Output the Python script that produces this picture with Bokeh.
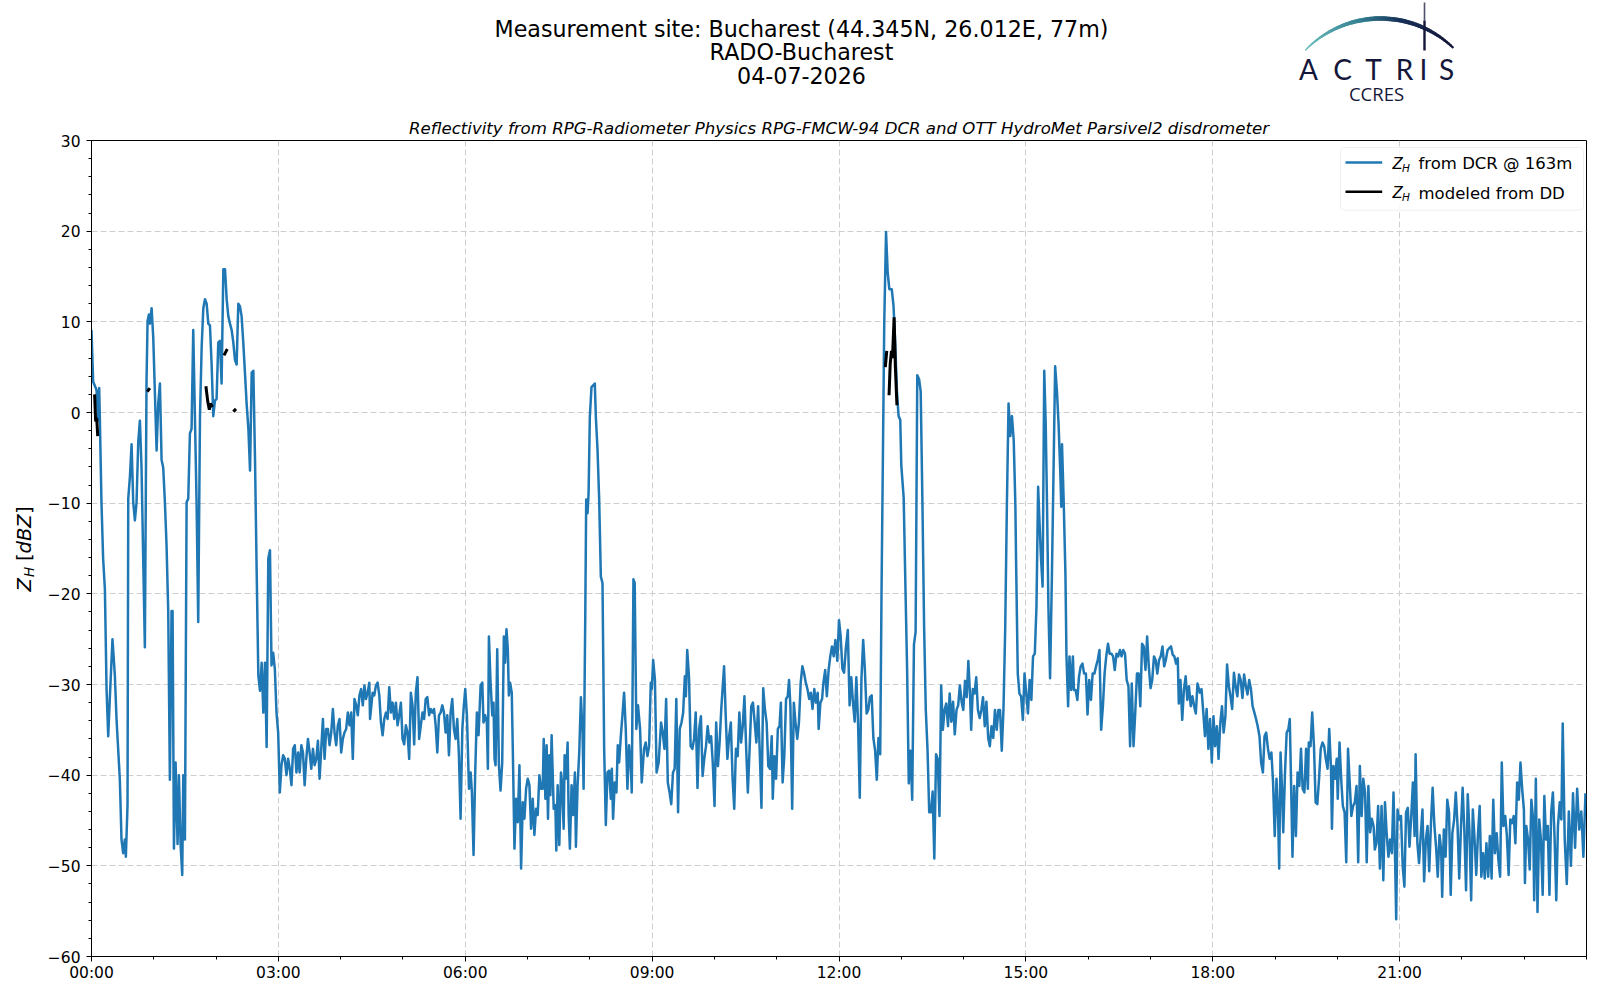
import numpy as np
from bokeh.plotting import figure
from bokeh.models import Range1d, FixedTicker, Label, BoxAnnotation
from bokeh.layouts import column, row
from bokeh.core.properties import value
from bokeh.embed import file_html
from bokeh.resources import INLINE

nan = float("nan")

# ---------------- data: time in minutes after 00:00, Z_H in dBZ ----------------
t_00_03 = [0.0,1.6,4.8,6.4,7.4,8.0,9.6,11.2,12.9,14.5,16.1,17.7,20.2,22.5,24.1,27.3,28.9,30.5,32.1,33.1,34.7,35.4,37.0,38.6,40.2,41.8,43.4,45.0,46.6,48.2,49.8,51.4,53.0,54.0,55.3,56.2,57.9,59.5,61.1,62.7,64.3,65.9,67.5,69.1,70.7,72.3,73.9,75.5,77.1,78.1,79.4,81.0,82.9,84.2,85.8,87.4,88.4,90.0,91.6,93.2,94.8,96.4,98.0,99.6,101.2,102.8,104.5,106.1,107.7,109.3,110.9,112.5,114.1,115.7,117.3,118.9,120.5,122.1,123.7,125.3,127.0,128.6,130.2,131.8,133.4,135.0,136.6,138.2,139.8,141.4,143.0,144.6,146.2,147.8,149.4,151.1,152.7,154.3,155.9,157.5,159.1,160.7,162.3,163.9,165.5,167.1,168.7,170.3,171.9]
z_00_03 = [9.1,3.4,2.5,-0.9,2.7,-0.4,-9.9,-16.1,-19.5,-30.5,-35.7,-31.4,-25.0,-29.0,-33.8,-40.5,-47.1,-48.6,-47.1,-49.0,-43.3,-9.5,-7.1,-3.5,-9.9,-11.9,-9.9,-3.3,-0.9,-6.1,-16.1,-25.9,3.4,10.1,10.8,9.8,11.5,8.2,2.0,-4.2,1.0,3.2,-5.2,-6.1,-9.9,-14.7,-21.9,-40.5,-21.9,-21.9,-48.1,-38.6,-47.6,-40.0,-47.6,-51.0,-40.0,-47.1,-9.9,-9.5,-2.3,-1.8,9.1,-0.4,-9.9,-23.1,-0.4,7.2,11.5,12.5,12.0,9.8,9.6,5.3,-0.4,1.3,1.5,7.7,7.9,3.2,15.8,15.8,12.5,10.6,9.8,9.1,7.7,5.8,5.3,12.0,11.7,10.6,7.7,4.4,1.0,-1.8,-6.4,4.4,4.6,-5.2,-17.6,-29.0,-30.7,-27.6,-33.1,-27.6,-36.9,-16.1,-15.2]

t_03_06 = [173.4,175.0,176.6,178.2,179.8,181.4,183.0,184.6,186.2,187.8,189.4,191.0,192.6,194.2,195.8,197.4,199.0,200.5,202.1,203.7,205.3,206.9,208.5,210.1,211.7,213.3,214.9,216.5,218.1,219.7,221.3,222.9,224.5,226.1,227.7,229.3,230.9,232.5,234.1,235.7,237.3,238.9,240.5,242.1,243.7,245.3,246.9,248.5,250.1,251.7,253.3,254.9,256.5,258.1,259.7,261.3,262.9,264.4,266.0,267.6,268.3,270.8,272.4,274.0,275.6,277.2,278.8,280.4,282.0,283.6,285.2,286.8,288.4,290.0,291.6,293.2,294.8,296.4,298.0,299.6,301.2,302.8,304.4,306.0,307.6,309.2,310.8,312.4,314.0,315.6,317.2,318.8,320.4,321.9,323.5,325.2,326.7,328.3,329.9,331.5,333.1,334.7,336.3,337.9,339.5,341.1,342.7,344.3,345.9,347.5,349.1,350.7,352.3,353.9,355.5]
z_03_06 = [-27.9,-26.5,-28.3,-33.1,-35.3,-41.9,-38.9,-37.8,-38.2,-40.0,-38.2,-39.3,-41.1,-37.1,-36.7,-39.7,-37.5,-39.7,-36.7,-37.5,-41.1,-38.2,-36.0,-37.5,-39.3,-37.1,-38.9,-38.2,-36.2,-40.4,-37.1,-33.8,-38.2,-34.9,-34.9,-36.7,-35.3,-32.7,-35.3,-36.7,-34.5,-33.8,-37.5,-36.0,-35.3,-34.9,-33.1,-34.5,-33.1,-38.2,-31.6,-32.3,-33.4,-31.2,-30.5,-32.3,-30.1,-31.6,-30.9,-29.8,-33.8,-30.9,-31.2,-30.1,-29.8,-31.2,-34.2,-35.6,-33.8,-33.1,-33.8,-30.3,-33.1,-32.0,-33.8,-32.0,-34.5,-33.4,-32.0,-36.0,-36.6,-34.5,-35.3,-38.2,-30.9,-32.3,-36.6,-30.9,-29.2,-36.0,-34.5,-33.1,-33.8,-31.6,-31.4,-33.4,-32.7,-33.1,-32.7,-34.5,-37.5,-33.4,-33.1,-32.3,-33.1,-35.3,-33.4,-37.8,-33.1,-31.6,-34.9,-36.0,-33.8,-37.8,-44.8]

t_06_09 = [357.2,358.4,360.0,361.6,363.6,365.2,366.4,368.0,369.6,371.2,372.8,374.8,376.4,377.6,379.2,380.8,381.8,382.8,384.4,386.0,387.2,388.2,389.2,390.8,392.4,394.0,395.6,397.2,398.4,399.7,401.0,402.0,403.2,404.8,405.8,407.4,409.0,410.6,412.2,413.8,415.4,417.0,418.6,420.2,421.8,423.4,425.0,426.6,428.2,429.8,431.4,433.0,434.6,435.6,437.2,438.4,439.7,441.0,442.0,443.2,445.2,446.8,447.7,449.0,450.6,452.2,453.2,454.8,455.7,457.0,458.6,459.6,460.8,462.4,464.0,465.6,466.6,468.2,469.8,471.4,473.0,474.0,475.6,476.5,477.8,478.8,480.0,481.6,483.2,484.8,485.8,487.4,489.0,490.6,492.2,493.8,495.4,497.0,498.6,500.2,501.2,502.4,504.0,505.6,506.9,508.2,510.1,511.4,513.0,514.6,516.2,517.8,519.4,520.4,522.0,523.2,524.8,526.4,528.4,530.0]
z_06_09 = [-34.9,-32.7,-30.5,-33.4,-41.5,-39.7,-41.9,-48.8,-39.7,-33.1,-35.6,-30.1,-29.8,-34.2,-33.4,-34.2,-39.3,-24.7,-29.8,-33.4,-32.0,-38.2,-38.9,-26.1,-38.9,-41.7,-38.6,-24.7,-27.6,-23.9,-26.1,-31.2,-29.8,-30.9,-37.1,-48.1,-42.6,-45.2,-38.9,-50.3,-43.0,-44.8,-41.5,-40.4,-41.1,-45.9,-42.6,-46.6,-43.7,-44.4,-40.0,-41.5,-41.5,-36.0,-42.6,-36.7,-44.8,-37.8,-42.2,-35.6,-43.7,-43.3,-48.3,-41.1,-47.7,-39.7,-40.8,-45.9,-37.8,-40.4,-36.4,-44.4,-48.1,-41.1,-44.4,-39.7,-47.9,-41.1,-37.5,-31.4,-35.3,-41.5,-22.5,-9.6,-11.1,-8.9,-0.5,2.8,3.0,3.2,-0.5,-4.1,-9.6,-18.1,-18.8,-37.1,-45.5,-39.7,-39.5,-42.6,-39.3,-44.8,-40.8,-41.9,-36.7,-38.6,-35.3,-33.4,-30.9,-34.9,-41.5,-36.7,-38.9,-41.9,-18.4,-18.8,-34.9,-32.3,-34.9,-40.8]

t_09_12 = [532.2,533.8,535.5,537.1,538.7,539.7,541.0,542.7,544.3,546.3,548.6,550.2,551.9,553.5,555.1,556.8,558.4,560.1,561.7,563.3,565.0,566.6,568.3,569.9,571.5,572.5,573.8,575.5,577.1,578.8,580.4,582.0,583.7,585.3,587.0,588.6,590.2,591.9,593.5,595.2,596.8,598.4,600.1,601.7,603.4,605.0,606.6,609.3,610.9,612.5,614.2,615.8,617.5,619.1,620.7,622.4,624.0,625.7,627.3,628.9,630.6,632.2,633.9,635.5,637.1,638.8,640.4,642.1,643.7,645.3,647.0,648.6,650.3,651.9,653.5,655.2,656.2,657.8,659.4,661.1,662.7,664.0,665.7,667.3,669.0,670.6,671.9,673.2,674.9,676.5,678.1,679.8,681.4,683.1,684.7,686.3,688.0,689.6,691.3,692.9,694.5,696.2,697.8,699.5,700.4,702.1,703.7,705.0,706.7,708.3,710.0,711.6,713.2,714.9,716.5]
z_09_12 = [-37.1,-36.4,-37.9,-36.8,-29.8,-30.5,-27.3,-29.5,-39.7,-38.6,-34.2,-35.3,-37.1,-31.6,-40.8,-41.9,-43.2,-39.7,-39.3,-31.6,-44.1,-34.9,-34.2,-33.1,-29.1,-31.3,-26.2,-29.1,-36.8,-37.1,-36.0,-33.1,-41.4,-34.9,-33.5,-40.1,-38.2,-36.8,-34.6,-36.4,-35.7,-38.6,-43.4,-34.2,-39.0,-36.4,-32.7,-28.0,-33.5,-38.2,-35.7,-34.2,-40.4,-43.7,-37.1,-37.9,-33.1,-36.4,-34.6,-31.3,-37.1,-41.9,-37.1,-32.4,-32.0,-34.2,-36.4,-32.4,-37.5,-43.6,-30.4,-32.7,-34.2,-39.0,-39.3,-35.7,-42.6,-37.9,-40.4,-34.9,-34.6,-32.0,-40.8,-37.9,-31.6,-31.3,-29.5,-32.4,-43.7,-32.0,-34.2,-36.0,-34.2,-29.8,-28.0,-28.7,-29.8,-30.5,-31.6,-30.9,-32.7,-30.5,-32.0,-30.9,-34.9,-32.0,-31.6,-29.8,-28.4,-31.3,-28.4,-26.9,-25.8,-26.9,-25.1]

t_12_15 = [718.4,720.0,721.6,723.3,724.9,726.6,728.5,730.2,731.8,733.4,735.1,736.7,738.4,740.0,741.6,743.3,744.9,746.6,748.2,749.8,751.5,753.1,754.8,756.4,758.0,759.7,761.0,762.6,763.6,765.3,766.9,768.5,770.8,772.5,774.1,775.8,777.4,779.0,780.0,782.3,784.0,785.6,787.2,788.9,790.5,792.2,793.8,795.4,797.1,798.7,800.4,802.0,803.6,805.3,806.9,808.6,810.2,811.8,813.5,815.1,816.8,818.4,820.0,821.7,823.3,825.0,826.6,828.2,829.9,831.5,833.2,834.8,836.4,838.1,839.7,841.4,843.0,844.6,846.3,847.3,848.9,850.5,852.2,853.8,855.5,857.1,858.7,860.4,862.0,863.7,865.3,866.9,868.6,870.2,871.9,873.5,875.1,876.8,878.4,880.1,881.7,883.3,885.0,886.6,888.3,889.9]
z_12_15 = [-27.4,-22.9,-24.7,-28.3,-28.7,-26.0,-24.0,-32.3,-29.2,-31.9,-34.1,-29.2,-34.4,-42.5,-29.4,-25.1,-28.3,-33.2,-32.8,-31.4,-31.2,-35.9,-37.3,-40.5,-35.9,-37.7,-19.3,-1.3,10.0,19.9,15.4,13.6,13.6,11.8,7.7,2.3,-0.4,-0.8,-5.8,-9.4,-19.3,-28.3,-40.9,-37.3,-42.7,-25.6,-24.2,4.1,3.7,2.3,-10.3,-23.8,-32.8,-37.3,-44.1,-44.1,-41.8,-49.2,-37.7,-38.2,-44.5,-30.1,-35.0,-32.8,-32.1,-34.6,-31.0,-34.1,-31.9,-35.5,-32.8,-32.3,-30.1,-31.9,-32.8,-29.6,-31.4,-27.4,-31.4,-35.0,-30.5,-31.0,-29.2,-32.8,-33.7,-32.8,-31.4,-34.6,-31.9,-35.9,-36.8,-34.6,-35.9,-32.8,-35.0,-32.8,-32.8,-37.3,-32.8,-23.8,-10.3,1.0,-2.6,-0.4,-3.1,-10.3]

t_15_18 = [890.5,892.2,893.8,895.4,897.1,898.7,900.4,902.0,903.6,905.3,906.9,908.6,910.2,911.8,913.2,914.5,916.1,917.7,919.1,920.4,921.7,923.3,925.0,926.6,928.2,929.9,931.5,933.2,934.1,934.8,936.4,938.1,939.1,940.7,942.0,943.7,945.3,946.3,947.9,949.6,951.2,952.8,954.5,956.1,957.8,959.4,961.0,962.7,964.3,966.0,967.6,969.2,970.9,972.5,974.2,975.8,977.4,979.1,980.7,982.4,984.0,985.6,987.3,988.9,990.6,992.2,993.8,995.5,997.1,998.8,1000.4,1002.0,1003.7,1005.3,1007.0,1008.6,1010.2,1011.9,1013.5,1015.2,1016.8,1018.4,1020.1,1021.7,1023.4,1025.0,1026.6,1028.3,1029.9,1031.6,1033.2,1034.8,1036.5,1038.1,1039.8,1041.4,1043.0,1044.7,1046.3,1047.3,1048.9,1050.6,1052.2,1053.9,1055.5,1057.1,1058.8,1060.4,1062.1,1063.7,1065.3]
z_15_18 = [-15.9,-28.8,-31.0,-31.3,-33.9,-28.8,-31.0,-33.2,-29.5,-31.7,-26.9,-26.6,-21.4,-8.2,-12.3,-15.9,-19.2,4.6,-1.3,-10.4,-21.4,-29.3,-18.5,-6.8,5.1,2.4,-1.3,-6.8,-10.4,-3.5,-9.7,-17.8,-26.9,-32.4,-26.9,-30.6,-26.9,-30.6,-30.6,-31.7,-29.1,-28.0,-27.7,-28.8,-28.8,-33.3,-29.5,-31.7,-28.8,-28.8,-28.0,-27.3,-26.2,-35.0,-32.4,-28.8,-26.9,-25.5,-26.6,-26.6,-26.9,-28.4,-26.6,-26.9,-26.2,-26.9,-26.2,-26.6,-29.5,-30.2,-36.8,-29.9,-36.8,-33.2,-28.8,-28.8,-32.4,-25.5,-25.8,-28.4,-24.7,-28.0,-30.4,-29.5,-26.9,-27.3,-28.8,-27.3,-26.9,-25.8,-28.0,-27.3,-26.2,-26.0,-25.8,-26.7,-26.9,-27.7,-27.1,-32.1,-29.5,-33.9,-30.6,-29.1,-31.7,-30.2,-32.4,-31.3,-32.4,-33.2,-29.9]

t_18_21 = [1067.6,1069.2,1070.9,1072.5,1074.1,1075.8,1077.4,1079.1,1080.7,1082.3,1084.0,1085.6,1087.3,1088.9,1090.5,1092.2,1093.8,1095.5,1097.1,1098.7,1100.4,1102.0,1103.7,1105.3,1106.9,1108.6,1110.2,1111.9,1113.5,1115.1,1116.8,1118.4,1120.1,1121.7,1123.3,1125.0,1126.6,1128.3,1129.9,1131.5,1133.2,1134.8,1136.5,1138.1,1139.7,1141.4,1143.0,1144.0,1145.3,1146.6,1147.9,1149.6,1151.2,1152.9,1154.2,1155.5,1156.8,1158.4,1160.1,1161.7,1163.4,1165.0,1166.6,1168.3,1169.9,1171.6,1172.5,1174.2,1175.8,1177.5,1179.1,1180.7,1182.4,1184.0,1185.7,1187.3,1188.9,1190.6,1192.2,1193.9,1194.8,1196.2,1197.8,1199.4,1200.4,1202.1,1203.7,1205.3,1207.0,1208.6,1210.3,1211.9,1213.5,1215.2,1216.8,1218.5,1220.1,1221.7,1223.4,1225.0,1226.7,1228.3,1229.9,1231.6,1233.2,1234.9]
z_18_21 = [-30.9,-30.5,-33.1,-35.7,-32.7,-37.1,-33.8,-38.6,-33.5,-36.8,-34.6,-38.2,-34.2,-32.4,-35.3,-33.5,-27.8,-30.2,-31.3,-32.7,-28.7,-30.2,-31.3,-28.9,-29.5,-31.5,-28.9,-30.2,-31.1,-29.5,-30.5,-32.4,-33.1,-33.8,-34.6,-35.7,-38.6,-39.7,-35.7,-35.3,-37.1,-38.2,-37.5,-40.8,-46.7,-40.4,-44.8,-50.3,-37.5,-41.2,-46.3,-39.7,-35.3,-34.9,-33.8,-41.2,-49.0,-41.2,-46.7,-39.7,-41.2,-37.1,-41.5,-41.9,-37.1,-41.5,-36.4,-36.8,-33.1,-36.8,-43.0,-43.2,-40.4,-37.1,-36.4,-36.8,-38.2,-39.3,-34.9,-39.3,-45.9,-39.0,-40.4,-38.2,-42.6,-36.4,-40.4,-43.4,-44.1,-49.6,-37.1,-40.8,-44.5,-43.4,-43.0,-41.2,-49.6,-39.0,-44.5,-40.4,-41.9,-49.6,-41.2,-46.3,-44.8,-45.6]

t_21_24 = [1236.1,1237.7,1239.3,1241.0,1242.6,1244.3,1245.9,1247.5,1249.2,1250.8,1252.5,1254.1,1255.7,1256.7,1258.0,1259.7,1261.3,1263.0,1264.6,1266.2,1267.9,1269.5,1271.2,1272.8,1274.4,1275.4,1277.1,1278.7,1280.3,1282.0,1283.6,1285.3,1286.9,1288.5,1290.2,1291.8,1293.5,1295.1,1296.7,1298.4,1300.0,1301.0,1302.6,1304.3,1305.9,1307.6,1309.2,1310.8,1312.5,1314.1,1315.8,1317.4,1319.0,1320.7,1322.3,1324.0,1325.6,1327.2,1328.9,1330.5,1332.2,1333.8,1335.4,1337.1,1338.7,1340.4,1342.0,1343.6,1345.3,1346.9,1348.6,1350.2,1351.8,1353.5,1355.1,1356.8,1358.4,1360.0,1361.7,1363.3,1365.0,1366.6,1368.2,1369.9,1371.5,1373.2,1374.8,1376.4,1378.1,1379.7,1380.7,1382.0,1383.7,1385.3,1386.9,1388.6,1389.6,1391.2,1392.8,1394.5,1396.1,1397.8,1399.4,1401.0,1402.7,1404.3,1406.0,1407.6,1409.2,1410.9,1412.5,1414.2,1415.8,1417.1,1419.0,1421.0,1423.0,1425.0,1427.0,1429.0,1431.0,1433.0,1435.0,1437.0,1439.0]
z_21_24 = [-48.2,-47.5,-43.4,-50.3,-43.4,-51.6,-43.0,-46.4,-49.0,-47.1,-48.6,-41.9,-49.7,-55.9,-43.8,-44.9,-44.5,-50.1,-52.3,-44.1,-43.6,-47.9,-44.5,-40.8,-46.7,-37.7,-47.5,-49.7,-46.7,-43.8,-51.7,-47.1,-45.6,-50.6,-45.3,-41.4,-45.6,-47.9,-51.2,-46.6,-48.2,-53.4,-46.0,-49.0,-42.7,-44.1,-53.2,-46.4,-44.9,-41.9,-45.6,-51.4,-46.0,-41.4,-46.0,-52.7,-42.1,-46.0,-53.8,-43.8,-47.1,-51.0,-46.7,-43.4,-51.2,-48.6,-51.4,-47.5,-51.2,-46.7,-51.4,-42.7,-48.6,-46.4,-49.3,-51.2,-38.6,-45.6,-44.5,-46.7,-51.0,-44.9,-45.3,-44.5,-47.5,-40.8,-42.7,-38.6,-41.6,-43.8,-51.9,-45.6,-47.1,-50.4,-42.7,-44.9,-53.8,-40.4,-55.1,-44.9,-47.1,-53.2,-42.3,-47.1,-45.6,-53.2,-44.1,-41.9,-46.7,-53.8,-45.6,-43.0,-44.9,-34.3,-47.0,-52.0,-44.0,-50.0,-42.0,-48.0,-41.5,-46.0,-44.0,-49.0,-42.0]

# Z_H modeled from disdrometer (gaps = no precipitation)
t_model = [3.0,4.0,5.0,6.0,nan,53.7,56.2,nan,110.2,112.0,113.5,114.5,116.6,nan,127.6,130.8,nan,136.6,139.2,nan,764.6,766.0,nan,768.2,769.3,770.5,771.5,773.1,774.3,775.8]
z_model = [2.0,-1.0,-0.6,-2.6,nan,2.3,2.7,nan,2.9,1.2,0.3,1.0,0.6,nan,6.3,7.0,nan,0.1,0.4,nan,5.0,6.8,nan,1.9,5.3,6.8,6.0,10.5,5.0,0.8]

title_lines = ["Measurement site: Bucharest (44.345N, 26.012E, 77m)", "RADO-Bucharest", "04-07-2026"]
subtitle = "Reflectivity from RPG-Radiometer Physics RPG-FMCW-94 DCR and OTT HydroMet Parsivel2 disdrometer"
x_tick_hours = [0, 3, 6, 9, 12, 15, 18, 21]
x_tick_labels = ["00:00", "03:00", "06:00", "09:00", "12:00", "15:00", "18:00", "21:00"]
y_ticks = [-60, -50, -40, -30, -20, -10, 0, 10, 20, 30]
legend_texts = ["from DCR @ 163m", "modeled from DD"]

BLUE = "#1f77b4"
NAVY = "#15173a"
FONT = "DejaVu Sans"

# ---------------- assemble series ----------------
t_all, z_all = [], []
for tt, zz in [(t_00_03, z_00_03), (t_03_06, z_03_06), (t_06_09, z_06_09), (t_09_12, z_09_12),
               (t_12_15, z_12_15), (t_15_18, z_15_18), (t_18_21, z_18_21), (t_21_24, z_21_24)]:
    for a, b in zip(tt, zz):
        t_all.append(a)
        z_all.append(b)
hours = [t / 60.0 for t in t_all]
hours_model = [t / 60.0 for t in t_model]

# ---------------- geometry (pixels of the picture) ----------------
W = 1592            # total width
HH = 110            # header height
YW = 44             # width of the y-label strip
FL, FR, FT, FB = 87, 1586, 140, 958   # plot frame edges
MH = 984 - HH       # main row height

# ---------------- header (titles, logo) ----------------
header = figure(width=W, height=HH, x_range=Range1d(FL, FR), y_range=Range1d(HH, 0),
                x_axis_location=None, y_axis_location=None, toolbar_location=None,
                output_backend="svg", min_border_left=FL, min_border_right=W - FR,
                min_border_top=0, min_border_bottom=0)
header.grid.visible = False
header.outline_line_color = None

header.text(x=[801, 801, 801], y=[28.8, 51.6, 74.6], text=title_lines, text_align="center",
            text_baseline="middle", text_font=value(FONT), text_font_size="22.2px", text_color="black")

# logo arc (decoration)
th = np.linspace(np.radians(135.5), np.radians(46.5), 61)
axp = 1380 + 105 * np.cos(th)
ayp = 123 - 105 * np.sin(th)
f = np.linspace(0, 1, 60)
stops = [(0.0, (110, 192, 190)), (0.4, (50, 128, 145)), (0.65, (24, 48, 88)), (1.0, (20, 22, 56))]
cols = []
for fv in f:
    for i in range(len(stops) - 1):
        if stops[i][0] <= fv <= stops[i + 1][0]:
            a = (fv - stops[i][0]) / (stops[i + 1][0] - stops[i][0])
            c = [int(stops[i][1][k] + a * (stops[i + 1][1][k] - stops[i][1][k])) for k in range(3)]
            cols.append("#%02x%02x%02x" % tuple(c))
            break
widths = list(1.0 + 3.2 * np.sin(np.pi * np.clip(f * 0.85 + 0.06, 0, 1)) ** 1.2 + 0.6 * f)
header.segment(x0=axp[:-1], y0=ayp[:-1], x1=axp[1:], y1=ayp[1:], line_color=cols,
               line_width=widths, line_cap="round")
header.segment(x0=[1424, 1424], y0=[2, 20], x1=[1424, 1424], y1=[20, 50],
               line_color=NAVY, line_width=[1.6, 2.4], line_alpha=[0.75, 1.0])
header.text(x=[1308, 1342, 1373, 1404, 1423, 1446], y=[68] * 6, text=list("ACTRIS"),
            text_align="center", text_baseline="middle", text_font=value("Lato"),
            text_font_size="28px", text_color=NAVY)
header.text(x=[1376], y=[93], text=["CCRES"], text_align="center", text_baseline="middle",
            text_font=value("Open Sans"), text_font_size="18.5px", text_color=NAVY)

# ---------------- y-label strip:  Z_H [dBZ] ----------------
yfig = figure(width=YW, height=MH, x_range=Range1d(0, YW), y_range=Range1d(FB, FT),
              x_axis_location=None, y_axis_location=None, toolbar_location=None,
              output_backend="svg", min_border_left=0, min_border_right=0,
              min_border_top=FT - HH, min_border_bottom=HH + MH - FB)
yfig.grid.visible = False
yfig.outline_line_color = None
ylab_parts = [("Z", 24.0, 592, "19.5px", "italic"), ("H", 28.5, 577.5, "13.5px", "italic"),
              ("[", 24.0, 561.5, "19.5px", "normal"), ("dBZ", 24.0, 554, "19.5px", "italic"),
              ("]", 24.0, 514.5, "19.5px", "normal")]
for txt, xx, yy, sz, st in ylab_parts:
    yfig.text(x=[xx], y=[yy], text=[txt], angle=np.pi / 2, text_align="left",
              text_baseline="middle", text_font=value(FONT), text_font_size=sz,
              text_font_style=st, text_color="black")

# ---------------- main plot ----------------
p = figure(width=W - YW, height=MH, x_range=Range1d(0, 24), y_range=Range1d(-60, 30),
           output_backend="svg", toolbar_location=None,
           min_border_left=FL - YW, min_border_right=W - FR,
           min_border_top=FT - HH, min_border_bottom=HH + MH - FB)
p.title.text = subtitle
p.title.align = "center"
p.title.text_font = FONT
p.title.text_font_size = "16.6px"
p.title.text_font_style = "italic"
p.title.text_color = "black"
p.title.standoff = 6
p.outline_line_color = "black"
p.outline_line_width = 1

p.xaxis.ticker = FixedTicker(ticks=x_tick_hours, minor_ticks=list(range(0, 25)))
p.xaxis.major_label_overrides = {h: lab for h, lab in zip(x_tick_hours, x_tick_labels)}
p.yaxis.ticker = FixedTicker(ticks=y_ticks, minor_ticks=list(range(-60, 31, 2)))
p.yaxis.major_label_overrides = {v: (str(v).replace("-", "\u2212")) for v in y_ticks}

for ax in [p.xaxis[0], p.yaxis[0]]:
    ax.axis_line_color = "black"
    ax.major_tick_line_color = "black"
    ax.minor_tick_line_color = "black"
    ax.major_tick_out = 5
    ax.major_tick_in = 0
    ax.minor_tick_out = 3
    ax.minor_tick_in = 0
    ax.major_label_text_font = FONT
    ax.major_label_text_font_size = "15.5px"
    ax.major_label_text_color = "black"
p.xaxis.major_label_standoff = 2
p.yaxis.major_label_standoff = 6

p.grid.grid_line_color = "#cfcfcf"
p.grid.grid_line_dash = "6 3"
p.grid.grid_line_width = 1

p.line(hours, z_all, line_color=BLUE, line_width=2.5, line_join="round")
p.line(hours_model, z_model, line_color="black", line_width=3.0)

# legend (drawn by hand to allow the subscript); screen units are relative to the frame
LX = 1336 - FL
p.add_layout(BoxAnnotation(left=LX, right=LX + 243, bottom=746.3, top=809, left_units="screen",
                           right_units="screen", top_units="screen", bottom_units="screen",
                           fill_color="white", fill_alpha=0.85, line_color="#cccccc",
                           line_width=1, border_radius=4))
for sy, col in [(794.0, BLUE), (764.7, "black")]:
    p.add_layout(BoxAnnotation(left=LX + 5, right=LX + 41.7, bottom=sy - 1.3, top=sy + 1.3,
                               left_units="screen", right_units="screen", top_units="screen",
                               bottom_units="screen", fill_color=col, fill_alpha=1.0,
                               line_color=None))
for zc, hc, txt in [(792.7, 788.7, legend_texts[0]), (763.3, 759.7, legend_texts[1])]:
    p.add_layout(Label(x=LX + 52, y=zc, x_units="screen", y_units="screen", text="Z",
                       text_baseline="middle", text_font=FONT, text_font_size="15px",
                       text_font_style="italic", text_color="black"))
    p.add_layout(Label(x=LX + 61.5, y=hc, x_units="screen", y_units="screen", text="H",
                       text_baseline="middle", text_font=FONT, text_font_size="10.5px",
                       text_font_style="italic", text_color="black"))
    p.add_layout(Label(x=LX + 78, y=zc, x_units="screen", y_units="screen", text=txt,
                       text_baseline="middle", text_font=FONT, text_font_size="16.5px",
                       text_color="black"))

layout = column(header, row(yfig, p, spacing=0), spacing=0)
open("out.html", "w").write(file_html(layout, INLINE))
